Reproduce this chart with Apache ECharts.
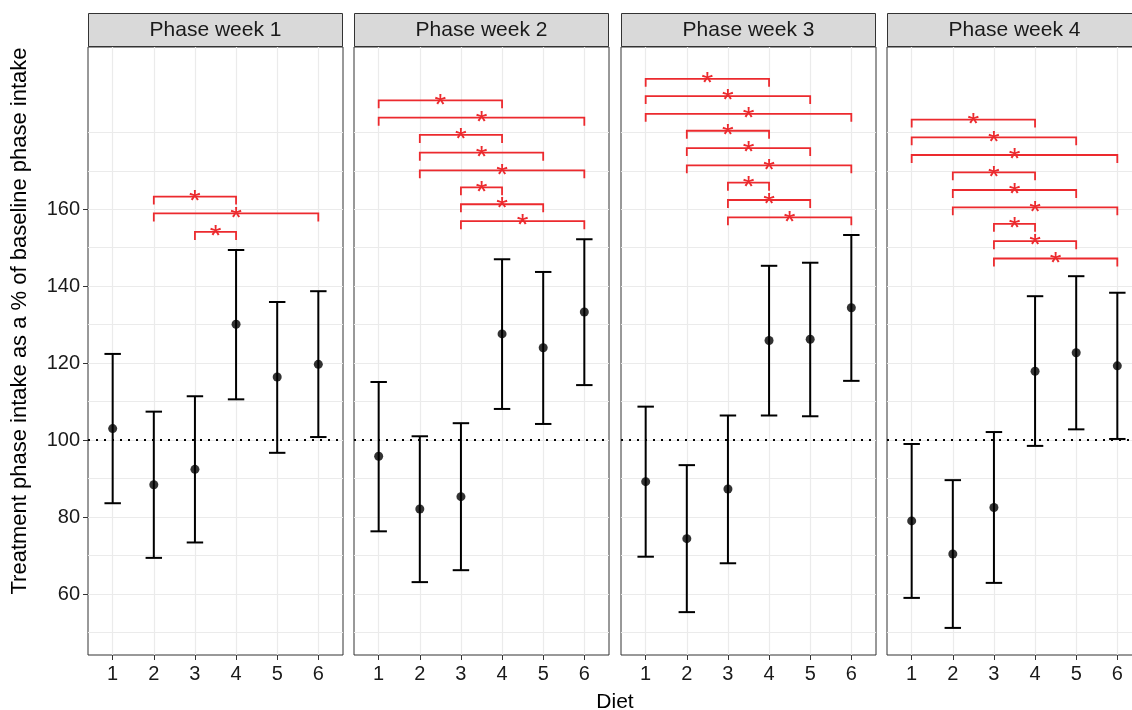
<!DOCTYPE html>
<html><head><meta charset="utf-8">
<script src="https://cdn.jsdelivr.net/npm/echarts@6/dist/echarts.min.js"></script>
<style>html,body{margin:0;padding:0;background:#fff}#c{width:1132px;height:710px}</style>
</head><body><div id="c"></div><script>
// ---------- data ----------
const diets = [1, 2, 3, 4, 5, 6];
const panelTitles = ['Phase week 1', 'Phase week 2', 'Phase week 3', 'Phase week 4'];
const yTickLabels = [60, 80, 100, 120, 140, 160];
const yGridValues = [50, 60, 70, 80, 90, 100, 110, 120, 130, 140, 150, 160, 170, 180];
const refLine = 100;

const mean_w1  = [103.0, 88.4, 92.4, 130.1, 116.4, 119.7];
const upper_w1 = [122.4, 107.4, 111.4, 149.4, 135.9, 138.7];
const lower_w1 = [83.6, 69.4, 73.4, 110.6, 96.7, 100.8];

const mean_w2  = [95.8, 82.1, 85.3, 127.6, 124.0, 133.3];
const upper_w2 = [115.1, 101.0, 104.4, 147.0, 143.7, 152.2];
const lower_w2 = [76.3, 63.1, 66.2, 108.1, 104.2, 114.3];

const mean_w3  = [89.2, 74.4, 87.3, 125.9, 126.2, 134.4];
const upper_w3 = [108.7, 93.5, 106.4, 145.3, 146.1, 153.3];
const lower_w3 = [69.7, 55.3, 68.0, 106.4, 106.2, 115.4];

const mean_w4  = [79.0, 70.4, 82.5, 117.9, 122.7, 119.3];
const upper_w4 = [99.0, 89.6, 102.1, 137.4, 142.6, 138.3];
const lower_w4 = [59.0, 51.2, 62.9, 98.5, 102.8, 100.3];

// significance brackets: [fromDiet, toDiet, y]
const brackets_w1 = [[2,4,163.3],[2,6,158.9],[3,4,154.1]];
const brackets_w2 = [[1,4,188.3],[1,6,183.8],[2,4,179.3],[2,5,174.7],[2,6,170.1],[3,4,165.7],[3,5,161.3],[3,6,156.9]];
const brackets_w3 = [[1,4,193.9],[1,5,189.4],[1,6,184.8],[2,4,180.4],[2,5,175.9],[2,6,171.4],[3,4,166.9],[3,5,162.4],[3,6,157.9]];
const brackets_w4 = [[1,4,183.3],[1,5,178.7],[1,6,174.1],[2,4,169.6],[2,5,165.0],[2,6,160.5],[3,4,156.2],[3,5,151.7],[3,6,147.2]];

const means = [mean_w1, mean_w2, mean_w3, mean_w4];
const uppers = [upper_w1, upper_w2, upper_w3, upper_w4];
const lowers = [lower_w1, lower_w2, lower_w3, lower_w4];
const brackets = [brackets_w1, brackets_w2, brackets_w3, brackets_w4];

// ---------- layout / style ----------
const FONT = '"Liberation Sans", Arial, Helvetica, sans-serif';
const gridLefts = [88, 354, 621, 887];
const PW = 255, PTOP = 47, PH = 608;
const YMIN = 44.16, YMAX = 202.16;
const RED = '#ec2a2e';

const grid = [], xAxis = [], yAxis = [], series = [], graphic = [];

gridLefts.forEach((l, i) => {
  grid.push({left: l, top: PTOP, width: PW, height: PH, show: true, outerBoundsMode: 'none',
    containLabel: false, backgroundColor: '#fff', borderColor: '#333', borderWidth: 1});
  xAxis.push({type: 'value', gridIndex: i, min: 0.4, max: 6.6,
    axisLine: {show: false},
    axisTick: {show: true, customValues: diets, length: 5, lineStyle: {color: '#333', width: 1}},
    axisLabel: {customValues: diets, fontSize: 20, color: '#1a1a1a', margin: 9, fontFamily: FONT},
    splitLine: {show: true, lineStyle: {color: '#ebebeb', width: 1.2}}});
  yAxis.push({type: 'value', gridIndex: i, min: YMIN, max: YMAX, position: 'left',
    axisLine: {show: false},
    axisTick: {show: false, customValues: yGridValues},
    axisLabel: {show: false, customValues: yGridValues},
    splitLine: {show: true, lineStyle: {color: '#ebebeb', width: 1.2}}});
});
// label axis for the first panel
yAxis.push({type: 'value', gridIndex: 0, min: YMIN, max: YMAX, position: 'left', offset: 0,
  axisLine: {show: false},
  axisTick: {show: true, customValues: yTickLabels, length: 5, lineStyle: {color: '#333', width: 1}},
  axisLabel: {customValues: yTickLabels, fontSize: 20, color: '#1a1a1a', margin: 8, fontFamily: FONT},
  splitLine: {show: false}});

gridLefts.forEach((l, i) => {
  // error bars
  series.push({type: 'custom', xAxisIndex: i, yAxisIndex: i, z: 3,
    data: diets.map((d, j) => [d, lowers[i][j], uppers[i][j]]),
    encode: {x: 0, y: [1, 2]},
    renderItem(params, api) {
      const x = api.value(0), lo = api.value(1), hi = api.value(2);
      const pLo = api.coord([x, lo]), pHi = api.coord([x, hi]);
      const hw = (api.coord([x + 0.2, hi])[0] - api.coord([x - 0.2, hi])[0]) / 2;
      const st = {stroke: '#000', lineWidth: 2, fill: null};
      return {type: 'group', children: [
        {type: 'line', shape: {x1: pLo[0], y1: pLo[1], x2: pHi[0], y2: pHi[1]}, style: st},
        {type: 'line', shape: {x1: pHi[0] - hw, y1: pHi[1], x2: pHi[0] + hw, y2: pHi[1]}, style: st},
        {type: 'line', shape: {x1: pLo[0] - hw, y1: pLo[1], x2: pLo[0] + hw, y2: pLo[1]}, style: st}
      ]};
    }});
  // mean points + reference line
  series.push({type: 'scatter', xAxisIndex: i, yAxisIndex: i, z: 4,
    data: diets.map((d, j) => [d, means[i][j]]),
    symbol: 'circle', symbolSize: 9, itemStyle: {color: '#000'},
    markLine: {silent: true, symbol: 'none', label: {show: false},
      lineStyle: {type: [2, 6], color: '#000', width: 2},
      data: [{yAxis: refLine}]}});
  // significance brackets
  series.push({type: 'custom', xAxisIndex: i, yAxisIndex: i, z: 5,
    data: brackets[i],
    encode: {x: [0, 1], y: 2},
    renderItem(params, api) {
      const a = api.coord([api.value(0), api.value(2)]);
      const b = api.coord([api.value(1), api.value(2)]);
      const tick = 8;
      return {type: 'group', children: [
        {type: 'polyline', shape: {points: [[a[0], a[1] + tick], [a[0], a[1]], [b[0], b[1]], [b[0], b[1] + tick]]},
          style: {stroke: RED, lineWidth: 1.8, fill: null}},
        {type: 'text', style: {text: '*', x: (a[0] + b[0]) / 2, y: a[1] + 5, align: 'center',
          verticalAlign: 'middle', fill: RED, font: '30px ' + FONT}}
      ]};
    }});
  // strips
  graphic.push({type: 'rect', silent: true, shape: {x: l + 0.5, y: 13.5, width: PW - 1, height: 33},
    style: {fill: '#d9d9d9', stroke: '#333', lineWidth: 1}});
  graphic.push({type: 'text', silent: true, style: {text: panelTitles[i], x: l + PW / 2, y: 30,
    align: 'center', verticalAlign: 'middle', fill: '#1a1a1a', font: '21px ' + FONT}});
});

graphic.push({type: 'text', silent: true, rotation: Math.PI / 2, x: 20, y: 321,
  style: {text: 'Treatment phase intake as a % of baseline phase intake', x: 0, y: 0,
    align: 'center', verticalAlign: 'middle', fill: '#000', font: '22px ' + FONT}});
graphic.push({type: 'text', silent: true, style: {text: 'Diet', x: 615, y: 702,
  align: 'center', verticalAlign: 'middle', fill: '#000', font: '21px ' + FONT}});

const chart = echarts.init(document.getElementById('c'), null, {renderer: 'canvas'});
chart.setOption({animation: false, backgroundColor: '#fff', grid, xAxis, yAxis, series, graphic});
</script></body></html>
